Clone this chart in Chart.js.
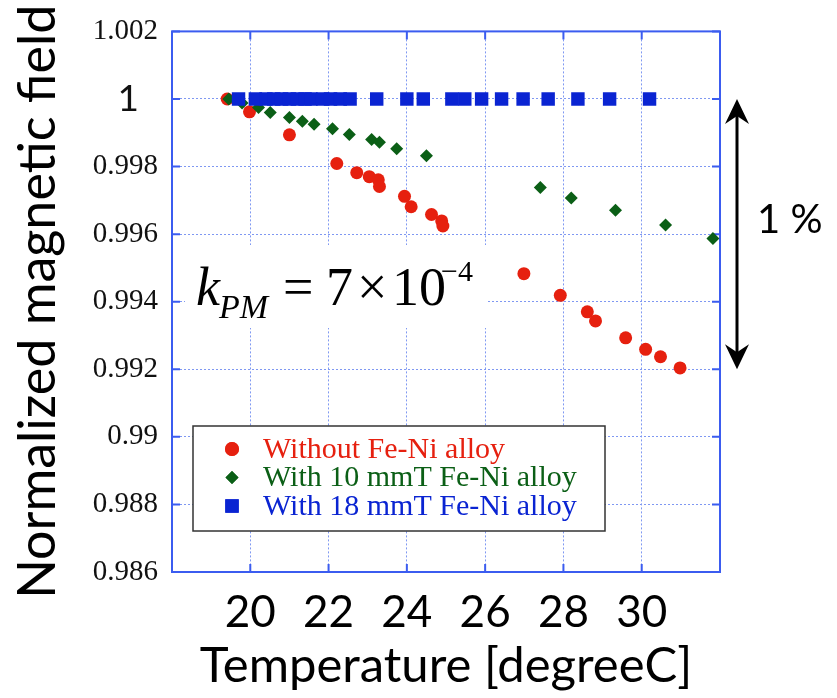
<!DOCTYPE html>
<html>
<head>
<meta charset="utf-8">
<script src="https://cdn.jsdelivr.net/npm/chart.js@4/dist/chart.umd.min.js"></script>
<style>
  html, body { margin: 0; padding: 0; background: #fff; }
  #wrap { width: 837px; height: 698px; }
</style>
</head>
<body>
<div id="wrap"><canvas id="fieldChart" width="837" height="698"></canvas></div>
<script>
// temperature [degreeC] / normalized field for each shielding case
const tempNone = [19.41, 19.98, 21.0, 22.21, 22.72, 23.04, 23.27, 23.30, 23.94, 24.11, 24.63, 24.89, 24.92, 26.99, 27.92, 28.61, 28.82, 29.59, 30.10, 30.48, 30.98];
const fieldNone = [1.0, 0.99962, 0.99894, 0.99809, 0.99782, 0.99770, 0.99761, 0.99741, 0.99712, 0.99681, 0.99658, 0.99639, 0.99624, 0.99483, 0.99419, 0.99370, 0.99343, 0.99293, 0.99259, 0.99237, 0.99204];

const temp10 = [19.45, 19.79, 20.21, 20.51, 21.0, 21.33, 21.63, 22.10, 22.53, 23.10, 23.30, 23.74, 24.50, 27.41, 28.20, 29.33, 30.61, 31.82];
const field10 = [1.0, 0.99988, 0.99975, 0.99960, 0.99945, 0.99934, 0.99925, 0.99912, 0.99895, 0.99880, 0.99872, 0.99853, 0.99832, 0.99738, 0.99707, 0.99671, 0.99627, 0.99587];

const temp18 = [19.70, 20.13, 20.40, 20.60, 20.80, 21.00, 21.20, 21.40, 21.55, 21.85, 22.05, 22.30, 22.55, 23.23, 24.00, 24.42, 25.15, 25.48, 25.91, 26.42, 26.97, 27.61, 28.37, 29.18, 30.20];
const field18 = [1, 1, 1, 1, 1, 1, 1, 1, 1, 1, 1, 1, 1, 1, 1, 1, 1, 1, 1, 1, 1, 1, 1, 1, 1];

const seriesNames = ['Without Fe-Ni alloy', 'With 10 mmT Fe-Ni alloy', 'With 18 mmT Fe-Ni alloy'];

const xTicks = [18, 20, 22, 24, 26, 28, 30, 32];
const xTickLabels = ['', '20', '22', '24', '26', '28', '30', ''];
const yTicks = [0.986, 0.988, 0.99, 0.992, 0.994, 0.996, 0.998, 1, 1.002];
const yTickLabels = ['0.986', '0.988', '0.99', '0.992', '0.994', '0.996', '0.998', '1  ', '1.002'];

const RED = '#e6200f';
const GREEN = '#0b5f16';
const BLUE = '#0a24d2';
const FRAME = '#3b5cf0';

function toPoints(xs, ys) {
  return xs.map((x, i) => ({ x: x, y: ys[i] }));
}

// plot frame with inward tick marks, plus white patch behind the k_PM note
const framePlugin = {
  id: 'frame',
  beforeDatasetsDraw(chart) {
    const { ctx, chartArea: a, scales } = chart;
    ctx.save();
    ctx.fillStyle = '#fff';
    ctx.fillRect(185, 245, 302, 83);
    ctx.strokeStyle = FRAME;
    ctx.lineWidth = 2;
    ctx.strokeRect(a.left, a.top, a.right - a.left, a.bottom - a.top);
    const len = 8;
    ctx.beginPath();
    yTicks.forEach(v => {
      const py = scales.y.getPixelForValue(v);
      ctx.moveTo(a.left, py); ctx.lineTo(a.left + len, py);
      ctx.moveTo(a.right, py); ctx.lineTo(a.right - len, py);
    });
    xTicks.forEach(v => {
      const px = scales.x.getPixelForValue(v);
      ctx.moveTo(px, a.top); ctx.lineTo(px, a.top + len);
      ctx.moveTo(px, a.bottom); ctx.lineTo(px, a.bottom - len);
    });
    ctx.stroke();
    ctx.restore();
  }
};

// legend box, k_PM note and the 1 % range arrow
const notesPlugin = {
  id: 'notes',
  afterDatasetsDraw(chart) {
    const { ctx, scales } = chart;
    ctx.save();

    // k_PM = 7x10^-4
    ctx.fillStyle = '#000';
    ctx.textBaseline = 'alphabetic';
    ctx.textAlign = 'left';
    ctx.font = 'italic 54px "Liberation Serif"';
    ctx.fillText('k', 196, 305);
    ctx.font = 'italic 34px "Liberation Serif"';
    ctx.fillText('PM', 219, 318);
    ctx.font = '54px "Liberation Serif"';
    ctx.fillText('=', 283, 305);
    ctx.fillText('7', 326, 305);
    ctx.fillText('\u00d7', 357, 305);
    ctx.fillText('10', 392, 305);
    ctx.font = '30px "Liberation Serif"';
    ctx.fillText('\u22124', 441, 281);

    // legend
    const lx = 193, ly = 426, lw = 412, lh = 105;
    ctx.fillStyle = '#fff';
    ctx.fillRect(lx, ly, lw, lh);
    ctx.strokeStyle = '#333';
    ctx.lineWidth = 1.5;
    ctx.strokeRect(lx, ly, lw, lh);
    const ds = chart.data.datasets;
    const legendRadius = [7, 6.5, 9.5];
    ctx.font = '30px "Liberation Serif"';
    ctx.textBaseline = 'middle';
    [0, 1, 2].forEach((di, row) => {
      const cy = 449 + row * 28.5;
      const d = ds[di];
      ctx.fillStyle = d.backgroundColor;
      Chart.helpers.drawPoint(ctx, { pointStyle: d.pointStyle, radius: legendRadius[row], rotation: 0, borderWidth: 0 }, 232, cy);
      ctx.fill();
      ctx.fillText(seriesNames[di], 263, cy + 1);
    });

    // double arrow spanning 1.000 .. 0.992
    const ax = 737;
    const yTop = scales.y.getPixelForValue(1);
    const yBot = scales.y.getPixelForValue(0.992);
    ctx.strokeStyle = '#000';
    ctx.fillStyle = '#000';
    ctx.lineWidth = 3;
    ctx.beginPath();
    ctx.moveTo(ax, yTop + 12);
    ctx.lineTo(ax, yBot - 12);
    ctx.stroke();
    ctx.beginPath();
    ctx.moveTo(ax, yTop);
    ctx.lineTo(ax + 12, yTop + 25);
    ctx.lineTo(ax, yTop + 17);
    ctx.lineTo(ax - 12, yTop + 25);
    ctx.closePath();
    ctx.fill();
    ctx.beginPath();
    ctx.moveTo(ax, yBot);
    ctx.lineTo(ax + 12, yBot - 25);
    ctx.lineTo(ax, yBot - 17);
    ctx.lineTo(ax - 12, yBot - 25);
    ctx.closePath();
    ctx.fill();

    ctx.font = '40px Lato';
    ctx.textBaseline = 'middle';
    ctx.fillText('1 %', 757, 220);

    ctx.restore();
  }
};

const ctx = document.getElementById('fieldChart').getContext('2d');

new Chart(ctx, {
  type: 'scatter',
  data: {
    datasets: [
      {
        label: seriesNames[0],
        data: toPoints(tempNone, fieldNone),
        pointStyle: 'circle',
        pointRadius: 6.5,
        backgroundColor: RED,
        borderColor: RED,
        borderWidth: 0,
        order: 3
      },
      {
        label: seriesNames[1],
        data: toPoints(temp10, field10),
        pointStyle: 'rectRot',
        pointRadius: 6.5,
        backgroundColor: GREEN,
        borderColor: GREEN,
        borderWidth: 0,
        order: 2
      },
      {
        label: seriesNames[2],
        data: toPoints(temp18, field18),
        pointStyle: 'rect',
        pointRadius: 9.5,
        backgroundColor: BLUE,
        borderColor: BLUE,
        borderWidth: 0,
        order: 1
      }
    ]
  },
  options: {
    responsive: false,
    animation: false,
    layout: { padding: { top: 24, right: 117, left: 0, bottom: 0 } },
    plugins: {
      legend: { display: false },
      tooltip: { enabled: false }
    },
    scales: {
      x: {
        type: 'linear',
        min: 18,
        max: 32,
        afterBuildTicks: axis => { axis.ticks = xTicks.map(v => ({ value: v })); },
        afterFit: axis => { axis.height = 126; },
        grid: { color: '#7f98f2', lineWidth: 1, drawTicks: false },
        border: { display: false, dash: [2, 2] },
        ticks: {
          padding: 14,
          maxRotation: 0,
          autoSkip: false,
          color: '#000',
          font: { family: 'Lato', size: 44 },
          callback: (v) => xTickLabels[xTicks.indexOf(v)]
        },
        title: {
          display: true,
          text: 'Temperature [degreeC]',
          color: '#000',
          font: { family: 'Lato', size: 49 },
          padding: { top: 0, bottom: 2 }
        }
      },
      y: {
        min: 0.986,
        max: 1.002,
        afterBuildTicks: axis => { axis.ticks = yTicks.map(v => ({ value: v })); },
        afterFit: axis => { axis.width = 172; },
        grid: { color: '#7f98f2', lineWidth: 1, drawTicks: false },
        border: { display: false, dash: [2, 2] },
        ticks: {
          padding: 14,
          autoSkip: false,
          color: '#111',
          font: (c) => (c.tick && c.tick.value === 1)
            ? { family: 'Lato', size: 37 }
            : { family: 'Liberation Serif', size: 29 },
          callback: (v) => yTickLabels[yTicks.indexOf(v)]
        },
        title: {
          display: true,
          text: 'Normalized magnetic field',
          color: '#000',
          font: { family: 'Lato', size: 52 },
          padding: { top: 7, bottom: 0 }
        }
      }
    }
  },
  plugins: [framePlugin, notesPlugin]
});
</script>
</body>
</html>
